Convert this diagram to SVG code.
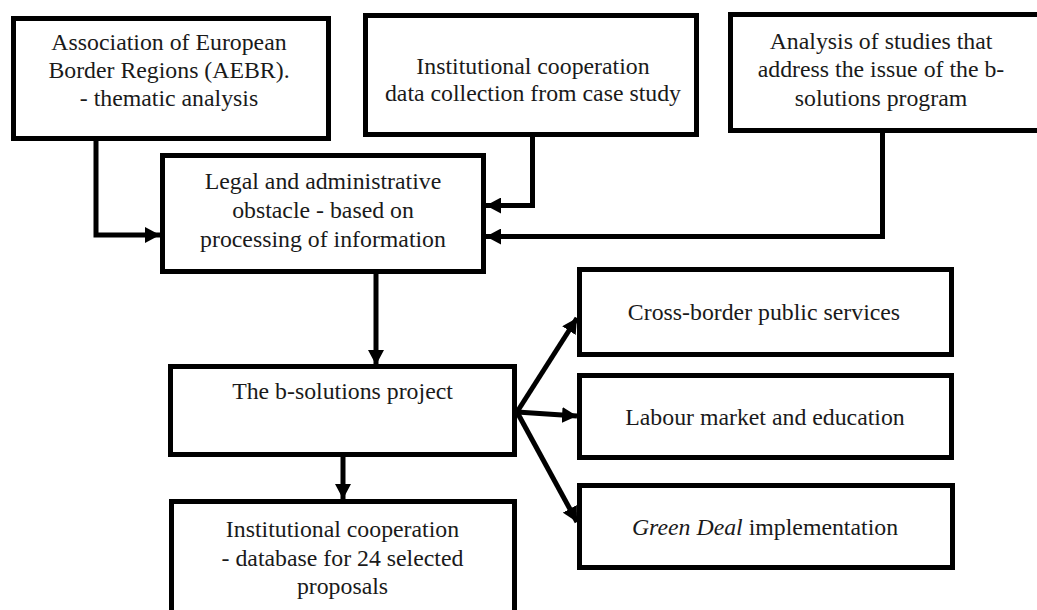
<svg xmlns="http://www.w3.org/2000/svg" width="1037" height="610" viewBox="0 0 1037 610">
<style>
.box{fill:#fff;stroke:#000;stroke-width:5}
.t{font-family:"Liberation Serif","Times New Roman",serif;font-size:23.8px;fill:#1a1a1a;text-anchor:middle}
.c{fill:none;stroke:#000;stroke-width:5}
</style>
<defs>
<marker id="ah" markerUnits="userSpaceOnUse" markerWidth="16" markerHeight="16" refX="15" refY="8" orient="auto">
<path d="M0,0 L15,8 L0,16 Z" fill="#000"/>
</marker>
</defs>
<rect width="1037" height="610" fill="#fff"/>
<g id="connectors">
<path class="c" d="M96,141 V235 H160" marker-end="url(#ah)"/>
<path class="c" d="M532.5,136 V205.5 H486" marker-end="url(#ah)"/>
<path class="c" d="M882.5,132 V236.5 H486" marker-end="url(#ah)"/>
<path class="c" d="M376,273 V365" marker-end="url(#ah)"/>
<path class="c" d="M343,456 V499" marker-end="url(#ah)"/>
<path class="c" d="M517,412 L577,318" marker-end="url(#ah)"/>
<path class="c" d="M517,412 L577,416" marker-end="url(#ah)"/>
<path class="c" d="M517,412 L577,522" marker-end="url(#ah)"/>
</g>
<g id="n-aebr">
<rect class="box" x="13.5" y="18.5" width="315" height="120"/>
<text class="t" x="169" y="50">Association of European</text>
<text class="t" x="169" y="78">Border Regions (AEBR).</text>
<text class="t" x="169" y="106">- thematic analysis</text>
</g>
<g id="n-datacollection">
<rect class="box" x="365.5" y="15.5" width="331" height="119"/>
<text class="t" x="533" y="74">Institutional cooperation</text>
<text class="t" x="533" y="101">data collection from case study</text>
</g>
<g id="n-analysis">
<rect class="box" x="730.5" y="14.5" width="310" height="116"/>
<text class="t" x="881" y="49">Analysis of studies that</text>
<text class="t" x="881" y="77">address the issue of the b-</text>
<text class="t" x="881" y="106">solutions program</text>
</g>
<g id="n-legal">
<rect class="box" x="162.5" y="155.5" width="321" height="116"/>
<text class="t" x="323" y="189">Legal and administrative</text>
<text class="t" x="323" y="218">obstacle - based on</text>
<text class="t" x="323" y="247">processing of information</text>
</g>
<g id="n-bsolutions">
<rect class="box" x="170.5" y="366.5" width="344" height="88"/>
<text class="t" x="342.5" y="399">The b-solutions project</text>
</g>
<g id="n-database">
<rect class="box" x="171.5" y="501.5" width="343" height="120"/>
<text class="t" x="342.5" y="537">Institutional cooperation</text>
<text class="t" x="342.5" y="566">- database for 24 selected</text>
<text class="t" x="342.5" y="594">proposals</text>
</g>
<g id="n-crossborder">
<rect class="box" x="579.5" y="269.5" width="372" height="85"/>
<text class="t" x="764" y="320">Cross-border public services</text>
</g>
<g id="n-labour">
<rect class="box" x="579.5" y="375.5" width="372" height="82"/>
<text class="t" x="765" y="425">Labour market and education</text>
</g>
<g id="n-greendeal">
<rect class="box" x="579.5" y="485.5" width="373" height="82"/>
<text class="t" x="765" y="535"><tspan font-style="italic">Green Deal</tspan> implementation</text>
</g>
</svg>
